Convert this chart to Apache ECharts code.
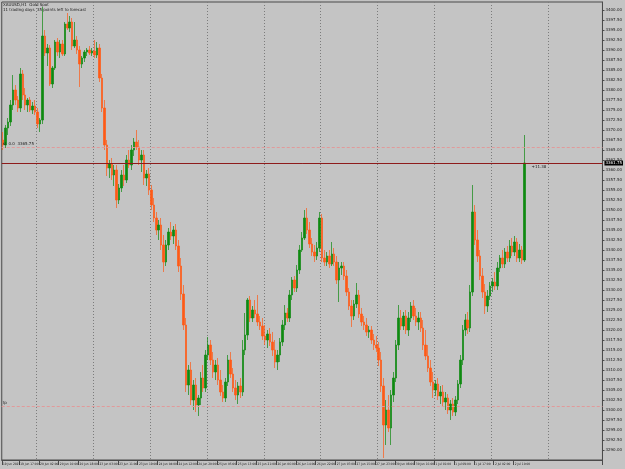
<!DOCTYPE html>
<html><head><meta charset="utf-8">
<script src="https://cdn.jsdelivr.net/npm/echarts@6/dist/echarts.min.js"></script>
<style>html,body{margin:0;padding:0;background:#c4c4c4}#c{width:625px;height:469px}</style>
</head><body><div id="c"></div>
<script>
// ---- data ----
const days = ['19 Jun','20 Jun','23 Jun','24 Jun','25 Jun','26 Jun','27 Jun','30 Jun','1 Jul','2 Jul','3 Jul'];
const firstHour = 10;
const totalSlots = 243;
const firstLabel = '19 Jun 2025';
const titleLine1 = 'XAUUSD,H1  Gold Spot';
const titleLine2 = '11 trading days  35 points left to forecast';

const opens = [3367.5,3366.25,3370.5,3372,3376.25,3380,3377.5,3375.5,3384,3378.75,3376.25,3377.5,3375,3376,
3374.5,3371.5,3372.5,3393.5,3389.25,3390.5,3381.5,3385.5,3392,3389.5,3391.5,3389,3396.5,3395.5,3397,3391,3392.5,3390,3386.5,3388,3389.5,3390,3389.25,
3389.75,3388.75,3390.5,3383,3375.5,3366.25,3360.5,3361.5,3358.75,3360,3352.5,3355.5,3358.75,3357.5,3362.5,3361.25,3365,3367,3365.75,3362.5,3363.75,3358,3359,
3355,3351.25,3348,3345,3346.25,3341.25,3337,3341.25,3344.5,3343.5,3345,3341,3336,3329,3321.25,3306.25,3310,3302.5,3306.25,3301.25,3303,3308,3305.5,
3313.75,3316.25,3312.5,3309.5,3311.25,3307.5,3304.5,3303,3307,3312.5,3309,3305.5,3303.75,3306,3304.5,3315,3318.75,3327.5,3323,3325,3324,3322,3321,
3318.5,3317.5,3319,3317,3315,3312,3313.75,3317,3321.25,3324.25,3323,3328.75,3332.5,3330.5,3335,3340,3343,3348,3345,3341.5,3339.5,3338.5,3340.5,
3348,3338,3337,3338.5,3336.5,3339,3337,3332.5,3335.5,3336,3333.5,3329.5,3326,3323.5,3326.5,3328.75,3324,3322,3321.25,3319.5,3320,3317.5,3316.25,
3315.5,3312.5,3306,3296.25,3300,3295.5,3303.75,3308,3316.25,3323,3321,3323.5,3320,3323,3326,3323.5,3322,3323,3320.5,3316.25,3313.5,3310.5,3307,
3305,3306.5,3303.5,3304.5,3302,3303,3300,3301.5,3299.5,3302.5,3306.5,3312.5,3320,3322.5,3320.5,3329.5,3349.5,3342.5,3338.5,3333.5,3329.5,3326,3328.5,
3331,3332,3331,3335.5,3338,3336.5,3339.5,3338,3341,3339.5,3342,3338,3340,3337.5];

const highs = [3369.5,3371.25,3373,3377.5,3383.75,3381.25,3378.5,3385.5,3385,3380.5,3378,3378.25,3377,3377.5,
3375.5,3373,3400.75,3395,3391.5,3391.25,3386,3392.5,3393,3392.5,3392.5,3397,3399.25,3398.5,3398,3397,3393.5,3391,3388.5,3390,3390.5,3391,3390.5,
3392.5,3392,3391.5,3384,3377.5,3367.5,3362.5,3363,3361.25,3361.25,3356.5,3360,3361.25,3363.75,3365,3366.25,3368,3370,3367.5,3365,3365,3360,3360.5,
3356.25,3353,3349.5,3347.5,3348,3343.75,3342.5,3345.5,3347,3346,3346.5,3342.5,3338,3331.25,3323,3311.25,3312,3307.5,3308,3303.75,3309.5,3311.25,3315,
3318.25,3317.5,3314.5,3312.5,3313,3310,3306.25,3308,3313.75,3314.5,3310.5,3307.5,3307,3308,3317.5,3324.25,3328,3328.5,3326,3327.5,3328.75,3323.5,3323,
3321.25,3320,3320.5,3319.5,3317.5,3315,3318,3322.5,3326.25,3325.5,3330,3333.25,3333.5,3336.25,3341.25,3344.5,3350,3350.5,3347,3343,3341.25,3342,3349.5,
3349,3340,3339.5,3340,3342,3340.5,3338.5,3337,3337,3337,3335,3330.5,3327.5,3327.5,3331.75,3330,3325.5,3323.5,3323,3321,3321,3319,3318.5,
3317,3314.5,3308,3302.5,3303.75,3305,3309.5,3317.5,3326.25,3325,3324.5,3325,3324.5,3327,3327.5,3325.5,3324.5,3324.5,3322.5,3320,3316.25,3312.5,3309.5,
3307.5,3308,3306,3306.25,3304.5,3304,3302.5,3303,3303.5,3307.5,3313.75,3321.25,3324,3324.5,3331.25,3356.25,3351.25,3345,3340,3335.5,3331.5,3330,3332,
3333,3334.5,3337,3338.75,3340,3340.5,3341,3342.5,3343,3343.5,3343,3341.5,3341,3368.75];

const lows = [3365,3365.5,3368.75,3371,3375,3376.25,3374.5,3374.5,3377.5,3375,3374.5,3374.5,3374,3373.75,
3370.5,3369.5,3371.5,3388.5,3386,3381,3380.5,3385,3388.5,3388,3388.5,3388.5,3395,3394.5,3390,3390.5,3389,3380.75,3385.5,3387,3388.5,3388.75,3388.5,
3388,3388,3382,3374.5,3365,3358.5,3358,3357.5,3356,3350.5,3351.5,3354.5,3356,3356.75,3360.5,3360,3363.5,3365,3361.25,3359.5,3356.25,3356,3353.75,
3350,3347,3343.75,3342.5,3340,3334.5,3336,3340,3342.5,3341.5,3340,3334.5,3327.5,3320,3304.5,3303.75,3301.25,3300,3299.5,3298.5,3301.25,3304.5,3304.5,
3312.5,3311.25,3308,3307.5,3306.25,3303.5,3302,3302,3306,3308,3304.5,3302.5,3301.5,3303,3303.5,3313.75,3317.5,3322,3322,3323,3321,3320,3317.5,
3316.25,3315.5,3316,3313.5,3310.5,3310,3312,3316,3320,3322,3322,3327.5,3329.5,3329.5,3334,3339.5,3342.5,3344,3340.5,3338.5,3337,3337.5,3339.5,
3337,3336,3336,3335.5,3336,3336,3331.5,3327,3333.75,3332.5,3328.5,3325,3320.75,3322.5,3325.5,3323,3321,3320,3318.5,3318,3316.5,3315,3314.5,
3311,3304.5,3288,3291.25,3294.5,3291.25,3302,3307,3315,3320,3320,3319,3318.5,3322,3322.5,3321,3320,3319.5,3315,3312.5,3309.5,3306,3303,
3303.5,3302.5,3301.5,3301,3300,3299,3297.5,3298.5,3298.5,3301.5,3305.5,3311.25,3318.5,3319,3319.5,3328.5,3341.25,3337,3332.5,3328,3324,3324.5,3327.5,
3329.5,3330,3330,3334.5,3335.5,3335.5,3337,3337,3338.5,3338.5,3337,3337,3336.5,3337];

const closes = [3366.25,3370.5,3372,3376.25,3380,3377.5,3375.5,3384,3378.75,3376.25,3377.5,3375,3376,3374.5,
3371.5,3372.5,3393.5,3389.25,3390.5,3381.5,3385.5,3392,3389.5,3391.5,3389,3396.5,3395.5,3397,3391,3392.5,3390,3386.5,3388,3389.5,3390,3389.25,3389.75,
3388.75,3390.5,3383,3375.5,3366.25,3360.5,3361.5,3358.75,3360,3352.5,3355.5,3358.75,3357.5,3362.5,3361.25,3365,3367,3365.75,3362.5,3363.75,3358,3359,3355,
3351.25,3348,3345,3346.25,3341.25,3337,3341.25,3344.5,3343.5,3345,3341,3336,3329,3321.25,3306.25,3310,3302.5,3306.25,3301.25,3303,3308,3305.5,3313.75,
3316.25,3312.5,3309.5,3311.25,3307.5,3304.5,3303,3307,3312.5,3309,3305.5,3303.75,3306,3304.5,3315,3318.75,3327.5,3323,3325,3324,3322,3321,3318.5,
3317.5,3319,3317,3315,3312,3313.75,3317,3321.25,3324.25,3323,3328.75,3332.5,3330.5,3335,3340,3343,3348,3345,3341.5,3339.5,3338.5,3340.5,3348,
3338,3337,3338.5,3336.5,3339,3337,3332.5,3335.5,3336,3333.5,3329.5,3326,3323.5,3326.5,3328.75,3324,3322,3321.25,3319.5,3320,3317.5,3316.25,3315.5,
3312.5,3306,3296.25,3300,3295.5,3303.75,3308,3316.25,3323,3321,3323.5,3320,3323,3326,3323.5,3322,3323,3320.5,3316.25,3313.5,3310.5,3307,3305,
3306.5,3303.5,3304.5,3302,3303,3300,3301.5,3299.5,3302.5,3306.5,3312.5,3320,3322.5,3320.5,3329.5,3349.5,3342.5,3338.5,3333.5,3329.5,3326,3328.5,3331,
3332,3331,3335.5,3338,3336.5,3339.5,3338,3341,3339.5,3342,3338,3340,3337.5,3361.75];

const stopLevel = 3365.75;
const targetLevel = 3301;
const stopText = 'sl  0.0  3365.75';
const targetText = 'tp';
const moveText = '+11.38';

// ---- build ----
const categories = [];
for (let d = 0; d < days.length && categories.length < totalSlots; d++) {
  for (let h = (d === 0 ? firstHour : 1); h <= 23 && categories.length < totalSlots; h++) {
    categories.push(days[d] + ' ' + String(h).padStart(2, '0') + ':00');
  }
}
const ohlc = opens.map((o, i) => [o, closes[i], lows[i], highs[i]]);
const lastIdx = closes.length - 1;
const lastClose = closes[lastIdx];
const labelShown = (i) => i <= lastIdx && (i === 0 || (i - 7) % 8 === 0);

const UP = '#0f8a10', DOWN = '#ff5a16';
const FONT = 'DejaVu Sans';
const NARROW = "'Liberation Sans Narrow','DejaVu Sans Condensed','Liberation Sans',sans-serif";

const chart = echarts.init(document.getElementById('c'), null, {renderer: 'canvas'});
chart.setOption({
  animation: false,
  backgroundColor: '#c4c4c4',
  textStyle: {fontFamily: FONT},
  title: {
    text: titleLine1, subtext: titleLine2, left: 3, top: 3, padding: 0, itemGap: 1,
    textStyle: {fontSize: 4, fontWeight: 'normal', color: '#1a1a1a', fontFamily: FONT},
    subtextStyle: {fontSize: 4, color: '#1a1a1a', fontFamily: FONT}
  },
  grid: {left: 1, top: 2, right: 18, bottom: 9, show: true, borderColor: '#4a4a4a', borderWidth: 1, backgroundColor: '#c4c4c4'},
  xAxis: {
    type: 'category', data: categories, boundaryGap: true,
    axisLine: {show: true, lineStyle: {color: '#4a4a4a'}},
    axisTick: {show: true, length: 5, interval: labelShown, lineStyle: {color: '#4a4a4a'}},
    axisLabel: {interval: labelShown, fontSize: 3.2, color: '#1a1a1a', align: 'left', margin: 2.5, fontFamily: NARROW,
      formatter: (v, i) => i === 0 ? firstLabel : v},
    splitLine: {show: true, interval: (i, v) => i > 0 && /\s01:00$/.test(v),
      lineStyle: {color: '#7c7c7c', type: [1, 2], width: 1}}
  },
  yAxis: {
    type: 'value', position: 'right', min: 3287.5, max: 3402, interval: 2.5,
    axisLine: {show: true, lineStyle: {color: '#4a4a4a'}},
    axisTick: {show: true, length: 2, lineStyle: {color: '#4a4a4a'}},
    axisLabel: {fontSize: 4, color: '#1a1a1a', margin: 3, showMinLabel: false, showMaxLabel: false,
      fontFamily: FONT, formatter: v => v.toFixed(2)},
    splitLine: {show: false}
  },
  series: [{
    type: 'candlestick', data: ohlc, barWidth: 2,
    itemStyle: {color: UP, color0: DOWN, borderColor: UP, borderColor0: DOWN, borderWidth: 0.7},
    markLine: {
      symbol: 'none', silent: true, animation: false,
      data: [
        {yAxis: lastClose, lineStyle: {color: '#8e1b1b', type: 'solid', width: 1},
          label: {show: true, position: 'end', distance: 2, formatter: p => p.value.toFixed(2),
            backgroundColor: '#000', color: '#fff', fontSize: 4, padding: [1, 1, 0, 1], fontFamily: FONT}},
        {yAxis: stopLevel, lineStyle: {color: '#e29a9a', type: [3, 2], width: 1},
          label: {show: true, position: 'insideStartTop', distance: 1, formatter: stopText, color: '#1a1a1a', fontSize: 4, fontFamily: FONT}},
        {yAxis: targetLevel, lineStyle: {color: '#e29a9a', type: [3, 2], width: 1},
          label: {show: true, position: 'insideStartTop', distance: 1, formatter: targetText, color: '#1a1a1a', fontSize: 4, fontFamily: FONT}}
      ]
    },
    markPoint: {
      symbol: 'circle', symbolSize: 0, silent: true,
      data: [{coord: [lastIdx, lastClose],
        label: {show: true, position: 'right', offset: [2, 4], formatter: moveText, color: '#1a1a1a', fontSize: 4, fontFamily: FONT}}]
    }
  }]
});
</script>
</body></html>
